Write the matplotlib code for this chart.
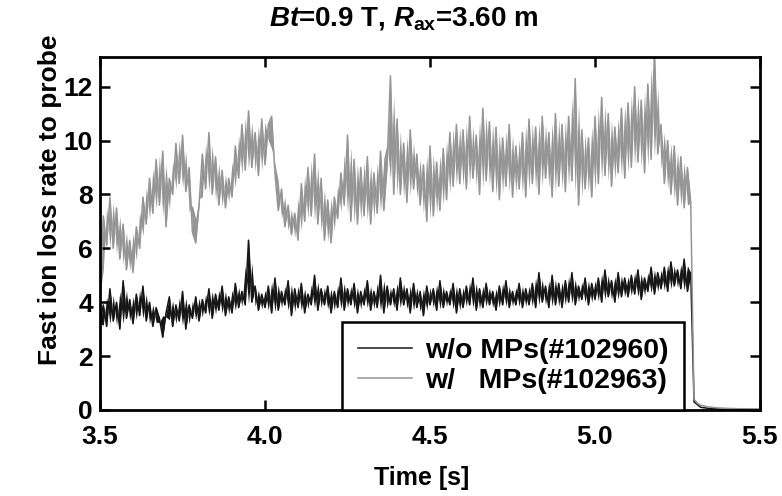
import numpy as np
import matplotlib
matplotlib.use("Agg")
import matplotlib.pyplot as plt

plt.rcParams["font.family"] = ["Liberation Sans", "DejaVu Sans"]
plt.rcParams["mathtext.fontset"] = "custom"
plt.rcParams["mathtext.it"] = "Liberation Sans:italic:bold"
plt.rcParams["mathtext.rm"] = "Liberation Sans:bold"

t_passo = np.round(3.50 + 0.01 * np.arange(180), 2)

sem_mp = [
    3.2, 3.9, 3.1, 4.5, 3.3, 4.0, 3.0, 4.8, 3.4, 4.1,
    3.2, 4.3, 3.5, 4.6, 3.3, 4.0, 3.1, 3.8, 3.4, 2.7,
    3.6, 4.2, 3.1, 3.9, 3.3, 4.4, 3.0, 3.9, 3.4, 4.2,
    3.3, 4.1, 3.6, 4.5, 3.4, 4.3, 3.7, 4.6, 3.5, 4.2,
    3.6, 4.7, 3.8, 4.4, 3.9, 6.3, 4.0, 4.6, 3.7, 4.3,
    3.8, 4.6, 3.6, 4.9, 3.7, 4.4, 3.9, 4.8, 3.5, 4.5,
    3.8, 4.7, 3.6, 4.3, 3.9, 5.0, 3.7, 4.5, 3.9, 4.6,
    3.6, 4.4, 3.8, 4.9, 3.7, 4.5, 3.9, 4.7, 3.6, 4.4,
    3.9, 4.8, 3.7, 4.4, 3.8, 5.0, 3.6, 4.6, 3.9, 4.5,
    3.7, 4.9, 3.9, 4.5, 3.6, 4.7, 3.8, 4.4, 3.5, 4.6,
    3.9, 4.5, 3.7, 4.8, 3.8, 4.4, 3.9, 4.7, 3.6, 4.5,
    3.8, 4.6, 3.9, 4.9, 3.7, 4.5, 3.8, 4.7, 3.9, 4.4,
    3.7, 4.6, 3.9, 4.8, 3.8, 4.4, 3.9, 4.7, 3.8, 4.5,
    3.9, 4.7, 3.8, 5.1, 4.0, 4.6, 3.8, 5.0, 3.9, 4.7,
    3.8, 4.8, 4.0, 5.1, 3.9, 4.6, 4.1, 4.9, 3.9, 4.7,
    4.1, 4.9, 4.0, 5.2, 4.2, 4.8, 4.0, 5.1, 4.2, 4.9,
    4.2, 5.0, 4.3, 5.2, 4.1, 4.9, 4.4, 5.3, 4.3, 5.1,
    4.5, 5.3, 4.4, 5.5, 4.6, 5.2, 4.5, 5.6, 4.4, 5.1,
]

com_mp = [
    4.3, 7.2, 6.1, 7.9, 6.0, 7.5, 5.6, 6.9, 5.2, 6.3,
    5.1, 6.8, 6.0, 7.9, 6.9, 8.6, 7.3, 9.3, 7.6, 9.6,
    6.8, 8.6, 8.0, 9.9, 8.4, 10.2, 8.1, 9.0, 6.6, 6.2,
    7.6, 9.5, 8.2, 10.3, 8.0, 9.4, 7.6, 8.9, 7.5, 8.6,
    7.9, 9.8, 8.6, 10.6, 8.9, 11.1, 9.0, 10.3, 8.7, 10.8,
    9.1, 10.6, 10.9, 8.8, 7.4, 8.2, 6.8, 7.6, 6.5, 7.3,
    6.3, 8.4, 7.0, 9.0, 7.2, 9.5, 6.9, 8.6, 6.3, 7.8,
    6.2, 7.9, 7.1, 8.8, 7.6, 10.2, 7.0, 9.3, 6.9, 9.0,
    7.2, 9.4, 6.9, 8.8, 7.3, 9.6, 7.4, 9.1, 12.4, 8.0,
    10.8, 8.0, 9.9, 7.7, 10.4, 8.2, 9.5, 7.6, 9.1, 7.0,
    9.8, 7.2, 9.2, 7.4, 9.7, 7.8, 10.3, 8.3, 10.6, 8.4,
    10.4, 8.2, 10.9, 8.6, 10.2, 8.0, 11.2, 8.5, 10.7, 8.1,
    10.5, 7.8, 10.1, 8.3, 10.6, 7.9, 9.8, 8.2, 10.3, 7.9,
    10.8, 8.4, 10.5, 8.0, 10.9, 8.6, 10.3, 7.9, 11.0, 8.3,
    10.6, 8.1, 10.9, 8.5, 12.3, 7.6, 10.4, 8.2, 10.1, 7.9,
    10.9, 8.4, 11.6, 8.7, 11.0, 8.3, 10.5, 8.8, 11.2, 8.6,
    11.4, 9.0, 12.0, 9.2, 11.5, 8.8, 12.1, 9.3, 13.3, 9.5,
    10.6, 8.4, 10.0, 8.0, 9.8, 7.6, 9.4, 7.5, 9.0, 7.7,
]

# cauda depois do fim da descarga
t_cauda_sem = [5.30, 5.32, 5.35, 5.40, 5.50]
cauda_sem = [0.3, 0.1, 0.05, 0.03, 0.02]
t_cauda_com = [5.30, 5.31, 5.32, 5.34, 5.37, 5.40, 5.45, 5.50]
cauda_com = [0.4, 0.25, 0.18, 0.12, 0.08, 0.06, 0.04, 0.03]

cor_sem = "#161616"
cor_com = "#959595"


def meio_vizinhos(y):
    # media dos vizinhos: preenche o "miolo" da faixa de ruido
    y = np.asarray(y, dtype=float)
    m = y.copy()
    m[1:-1] = 0.5 * (y[:-2] + y[2:])
    return m


fig = plt.figure(figsize=(7.82, 4.96), dpi=100)
ax = fig.add_axes([0.1279, 0.1734, 0.8440, 0.7117])

# faixa de ruido + linha
ax.fill_between(t_passo, sem_mp, meio_vizinhos(sem_mp), color=cor_sem, lw=0)
ax.plot(np.concatenate([t_passo, t_cauda_sem]), np.concatenate([sem_mp, cauda_sem]),
        color=cor_sem, lw=1.1, label="w/o MPs(#102960)")
ax.fill_between(t_passo, com_mp, meio_vizinhos(com_mp), color=cor_com, lw=0)
ax.plot(np.concatenate([t_passo, t_cauda_com]), np.concatenate([com_mp, cauda_com]),
        color=cor_com, lw=1.1, label="w/   MPs(#102963)")

ax.set_xlim(3.5, 5.5)
ax.set_ylim(0, 13.1)
ax.set_xticks([3.5, 4.0, 4.5, 5.0, 5.5])
ax.set_xticklabels(["3.5", "4.0", "4.5", "5.0", "5.5"])
ax.set_yticks([0, 2, 4, 6, 8, 10, 12])

ax.tick_params(direction="in", top=True, right=True, length=7, width=1.8,
               labelsize=19)
ax.tick_params(axis="x", pad=11)
ax.tick_params(axis="y", pad=5)
for lab in ax.get_xticklabels() + ax.get_yticklabels():
    lab.set_fontweight("bold")
for sp in ax.spines.values():
    sp.set_linewidth(2)

fig.text(422 / 782, 1 - 478 / 496, "Time [s]", ha="center", va="center",
         fontsize=18, fontweight="bold")
fig.text(50 / 782, 1 - 200 / 496, "Fast ion loss rate to probe", ha="center", va="center",
         rotation=90, fontsize=19, fontweight="bold")

fig.text(404 / 782, 1 - 18 / 496, r"$\mathit{Bt}$=0.9 T, $\mathit{R}_{\mathrm{ax}}$=3.60 m",
         ha="center", va="center", fontsize=20, fontweight="bold")

leg = ax.legend(loc="lower right", bbox_to_anchor=(0.885, 0.0), borderaxespad=0,
                fancybox=False, edgecolor="black", framealpha=1,
                prop={"size": 20.5, "weight": "bold"}, handlelength=1.9,
                labelspacing=0.15, borderpad=0.55, handletextpad=0.45)
leg.get_frame().set_linewidth(1.8)

fig.savefig("out.png", dpi=100)
